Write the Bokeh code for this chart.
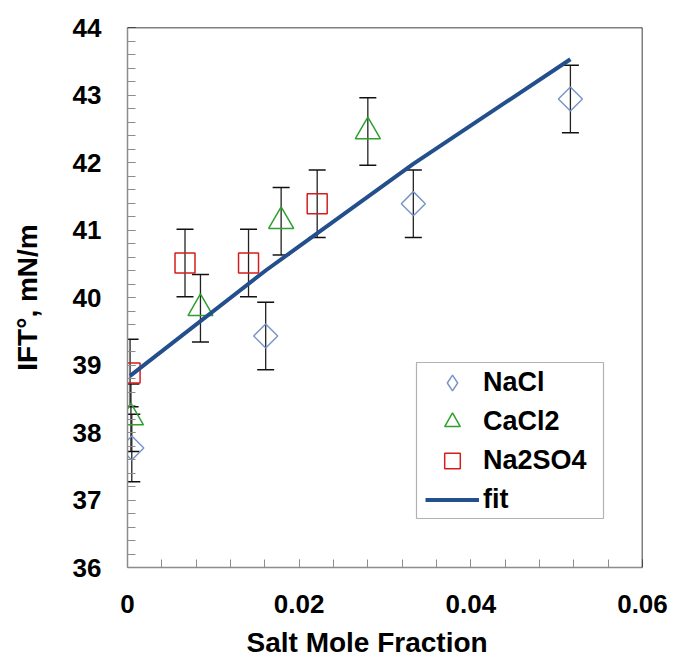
import numpy as np
from bokeh.plotting import figure
from bokeh.models import (ColumnDataSource, Whisker, TeeHead, FixedTicker, Legend,
                          LegendItem, Span, BoxAnnotation, Title, Range1d)
from bokeh.embed import file_html
from bokeh.resources import INLINE

# ---- data ----
nacl_x = [0.0005, 0.0161, 0.0333, 0.0516]
nacl_y = [37.77, 39.43, 41.39, 42.94]
cacl2_x = [0.0004, 0.0085, 0.0179, 0.0280]
cacl2_y = [38.22, 39.84, 41.13, 42.46]
na2so4_x = [0.0003, 0.0067, 0.0141, 0.0221]
na2so4_y = [38.88, 40.51, 40.51, 41.39]
err = 0.5
fit_x = [0.0003, 0.0161, 0.0333, 0.0516]
fit_y = [38.84, 40.40, 41.98, 43.53]

x_major = [0, 0.02, 0.04, 0.06]
x_labels = ["0", "0.02", "0.04", "0.06"]
y_major = [36, 37, 38, 39, 40, 41, 42, 43, 44]
x_minor = [i * 0.004 for i in range(16)]
y_minor = [36 + i * 0.2 for i in range(41)]

FONT = "Liberation Sans"
C_NACL = "#7B96C6"
C_CACL2 = "#2EA02E"
C_NA2SO4 = "#D41E1E"
C_FIT = "#23508C"
C_AX = "#8C8C8C"

p = figure(width=672, height=668,
           min_border_left=127, min_border_right=30,
           min_border_top=27, min_border_bottom=101,
           x_range=Range1d(0, 0.06), y_range=Range1d(36, 44),
           output_backend="svg", toolbar_location=None)
p.outline_line_color = None
p.xgrid.visible = False
p.ygrid.visible = False
p.background_fill_color = "white"
p.border_fill_color = "white"

p.xaxis.ticker = FixedTicker(ticks=x_major, minor_ticks=x_minor)
p.yaxis.ticker = FixedTicker(ticks=y_major, minor_ticks=y_minor)
p.xaxis.major_label_overrides = {t: l for t, l in zip(x_major, x_labels)}

for ax in (p.xaxis[0], p.yaxis[0]):
    ax.axis_line_color = C_AX
    ax.axis_line_width = 1.5
    ax.major_tick_line_color = C_AX
    ax.minor_tick_line_color = C_AX
    ax.major_tick_in = 8
    ax.major_tick_out = 0
    ax.minor_tick_in = 8
    ax.minor_tick_out = 0
    ax.major_label_text_font = FONT
    ax.major_label_text_font_style = "bold"
    ax.major_label_text_font_size = "26px"
    ax.major_label_text_color = "black"

p.yaxis.major_label_standoff = 26
p.xaxis.major_label_standoff = 27
p.yaxis.axis_label = "IFT°, mN/m"
p.yaxis.axis_label_text_font = FONT
p.yaxis.axis_label_text_font_style = "bold"
p.yaxis.axis_label_text_font_size = "28px"
p.yaxis.axis_label_text_color = "black"
p.yaxis.axis_label_standoff = 27

# x axis title (as a title below, so it can sit left of centre like the reference)
p.add_layout(Title(text="Salt Mole Fraction", align="left", offset=119, standoff=19,
                   text_font=FONT, text_font_style="bold", text_font_size="28px",
                   text_color="black"), "below")

# frame top / right lines
p.add_layout(Span(location=44, dimension="width", line_color="black", line_width=1.5))
p.add_layout(Span(location=0.06, dimension="height", line_color="black", line_width=1.5))

# error bars
def add_err(xs, ys):
    src = ColumnDataSource(dict(x=xs, upper=[v + err for v in ys], lower=[v - err for v in ys]))
    w = Whisker(source=src, base="x", upper="upper", lower="lower", dimension="height",
                line_color="#222222", line_width=1.3,
                upper_head=TeeHead(size=17, line_color="#111111", line_width=1.5),
                lower_head=TeeHead(size=17, line_color="#111111", line_width=1.5))
    p.add_layout(w)

add_err(nacl_x, nacl_y)
add_err(cacl2_x, cacl2_y)
add_err(na2so4_x, na2so4_y)

r_nacl = p.scatter(nacl_x, nacl_y, marker="square", angle=np.pi / 4, size=17,
                   fill_color=None, line_color=C_NACL, line_width=1.5)
r_cacl2 = p.scatter(cacl2_x, cacl2_y, marker="triangle", size=25,
                    fill_color=None, line_color=C_CACL2, line_width=1.5)
r_na2so4 = p.scatter(na2so4_x, na2so4_y, marker="square", size=20,
                     fill_color=None, line_color=C_NA2SO4, line_width=1.5)
r_fit = p.line(fit_x, fit_y, line_color=C_FIT, line_width=4)

# legend-only renderer for the diamond (a single point that is never drawn)
r_nacl_leg = p.scatter(x=[float("nan")], y=[float("nan")], marker="diamond", size=17,
                       fill_color=None, line_color=C_NACL, line_width=1.5)

# legend box + legend
p.add_layout(BoxAnnotation(left=289, right=476, bottom=49, top=205,
                           left_units="screen", right_units="screen",
                           bottom_units="screen", top_units="screen",
                           fill_color="white", fill_alpha=1.0,
                           line_color="black", line_width=1.2))
legend = Legend(items=[LegendItem(label="NaCl", renderers=[r_nacl_leg]),
                       LegendItem(label="CaCl2", renderers=[r_cacl2]),
                       LegendItem(label="Na2SO4", renderers=[r_na2so4]),
                       LegendItem(label="fit", renderers=[r_fit])],
                location=(298, 48), glyph_width=54, glyph_height=39, label_height=39,
                spacing=0, padding=0, margin=0, label_standoff=4,
                border_line_color=None, background_fill_alpha=0,
                label_text_font=FONT, label_text_font_style="bold",
                label_text_font_size="27px", label_text_color="black")
p.add_layout(legend)

open("out.html", "w").write(file_html(p, INLINE))
